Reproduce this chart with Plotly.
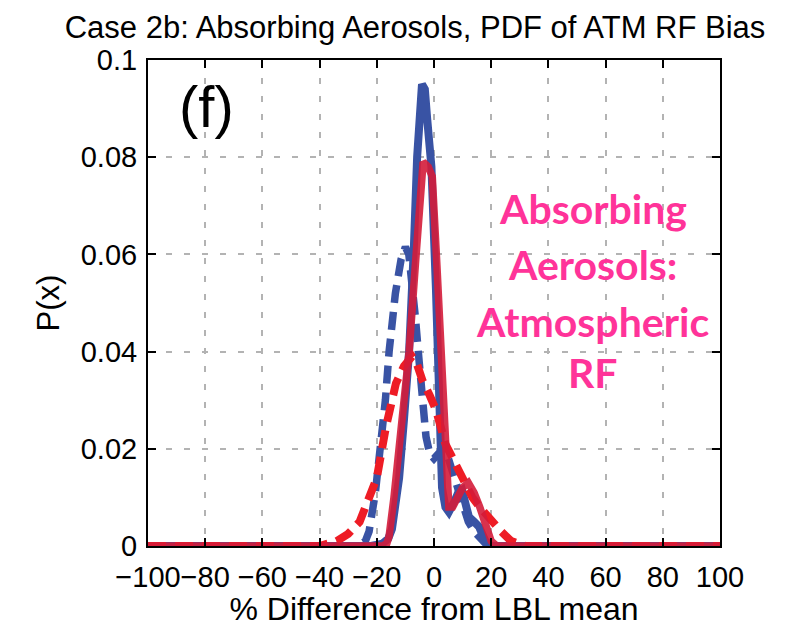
import plotly.graph_objects as go

# ---- data ----
blue_solid_x = [-100, -22, -18, -16, -14.7, -13.5, -12.2, -10.5, -8.7, -7, -5.9, -4.2, -3.2, -2.4, -0.9, 0.7, 1.7, 2.8, 4, 5.2, 7, 8.5, 9.8, 11, 12.2, 14, 15.7, 18, 20, 100]
blue_solid_y = [0, 0, 0.0005, 0.0015, 0.0035, 0.008, 0.014, 0.026, 0.040, 0.062, 0.080, 0.095, 0.094, 0.088, 0.078, 0.0525, 0.032, 0.012, 0.008, 0.007, 0.009, 0.011, 0.0115, 0.009, 0.006, 0.005, 0.004, 0.001, 0, 0]

red_solid_x = [-100, -18, -16.5, -15.7, -14, -12, -10.5, -8.7, -6.5, -5, -3.8, -2, -0.6, 1, 2.8, 4, 5.2, 6.5, 8, 10, 12, 14, 16, 18, 20, 22, 100]
red_solid_y = [0, 0, 0.0005, 0.002, 0.010, 0.021, 0.030, 0.040, 0.058, 0.071, 0.079, 0.078, 0.076, 0.058, 0.038, 0.022, 0.008, 0.008, 0.010, 0.012, 0.013, 0.011, 0.008, 0.004, 0.001, 0, 0]

blue_dash_x = [-100, -27, -24, -22.7, -20.5, -18.5, -17, -15.7, -13.5, -11.5, -10, -8.8, -7.7, -6.5, -5.2, -4, -2.8, -1.5, 0, 1.5, 3, 4.5, 6, 8, 10, 12, 14, 16, 18, 20, 100]
blue_dash_y = [0, 0, 0.001, 0.003, 0.011, 0.021, 0.030, 0.040, 0.052, 0.059, 0.0615, 0.060, 0.055, 0.047, 0.038, 0.030, 0.0225, 0.019, 0.018, 0.019, 0.020, 0.019, 0.016, 0.012, 0.008, 0.005, 0.003, 0.0015, 0.0005, 0, 0]

red_dash_x = [-100, -40, -34, -30, -26, -23, -20, -16.8, -13.3, -10.5, -7.7, -6, -4, -1.5, 0.7, 4, 6.5, 9, 11, 13.4, 16, 20, 23.5, 27, 30, 32, 100]
red_dash_y = [0, 0, 0.001, 0.0025, 0.005, 0.009, 0.014, 0.0245, 0.0335, 0.037, 0.039, 0.0375, 0.034, 0.031, 0.028, 0.021, 0.018, 0.015, 0.0125, 0.010, 0.008, 0.005, 0.003, 0.001, 0.0003, 0, 0]

x_tick_vals = [-100, -80, -60, -40, -20, 0, 20, 40, 60, 80, 100]
x_tick_text = ["\u2212100", "\u221280", "\u221260", "\u221240", "\u221220", "0", "20", "40", "60", "80", "100"]
y_tick_vals = [0, 0.02, 0.04, 0.06, 0.08, 0.1]
y_tick_text = ["0", "0.02", "0.04", "0.06", "0.08", "0.1"]

annotation_lines = ["Absorbing", "Aerosols:", "Atmospheric", "RF"]

BLUE = "#3953a4"
RED_SOLID = "rgba(212,28,58,0.9)"
RED_DASH = "#ee1c25"
FONT = "Liberation Sans, Arial, sans-serif"

fig = go.Figure()
fig.add_trace(go.Scatter(x=blue_dash_x, y=blue_dash_y, mode="lines",
                         line=dict(color=BLUE, width=7.5, dash="18px,9px")))
fig.add_trace(go.Scatter(x=blue_solid_x, y=blue_solid_y, mode="lines",
                         line=dict(color=BLUE, width=8)))
fig.add_trace(go.Scatter(x=red_dash_x, y=red_dash_y, mode="lines",
                         line=dict(color=RED_DASH, width=8, dash="18px,9px")))
fig.add_trace(go.Scatter(x=red_solid_x, y=red_solid_y, mode="lines",
                         line=dict(color=RED_SOLID, width=7.5)))

axis_common = dict(
    showline=True, linecolor="black", linewidth=2, mirror="ticks",
    ticks="inside", ticklen=8, tickcolor="black", tickwidth=2,
    showgrid=True, gridcolor="#b3b3b3", griddash="6px,12px", gridwidth=2,
    zeroline=False, automargin=False, tickangle=0,
    tickfont=dict(family=FONT, size=29, color="black"),
)

fig.update_layout(
    width=792, height=627,
    margin=dict(l=148, r=72, t=60, b=81),
    paper_bgcolor="white", plot_bgcolor="white",
    showlegend=False,
    title=dict(text="Case 2b: Absorbing Aerosols, PDF of ATM RF Bias",
               x=0.524, xanchor="center", y=0.957, yanchor="middle",
               font=dict(family=FONT, size=31, color="black")),
    xaxis=dict(range=[-100, 100], tickvals=x_tick_vals, ticktext=x_tick_text,
               ticklabelstandoff=4,
               title=dict(text="% Difference from LBL mean", standoff=2,
                          font=dict(family=FONT, size=32, color="black")),
               **axis_common),
    yaxis=dict(range=[0, 0.1], tickvals=y_tick_vals, ticktext=y_tick_text,
               ticklabelstandoff=3,
               title=dict(text="P(x)", standoff=12,
                          font=dict(family=FONT, size=31, color="black")),
               **axis_common),
)

fig.add_annotation(x=-79.4, y=0.0905, xref="x", yref="y", text="(f)", showarrow=False,
                   font=dict(family=FONT, size=58, color="black"))

ann_y = [0.0695, 0.058, 0.0462, 0.0358]
for txt, yy in zip(annotation_lines, ann_y):
    fig.add_annotation(x=55.5, y=yy, xref="x", yref="y", text="<b>" + txt + "</b>",
                       showarrow=False,
                       font=dict(family="Comic Sans MS, Lato, Open Sans", size=41, color="#ff3399"))

fig.write_html("out.html")
